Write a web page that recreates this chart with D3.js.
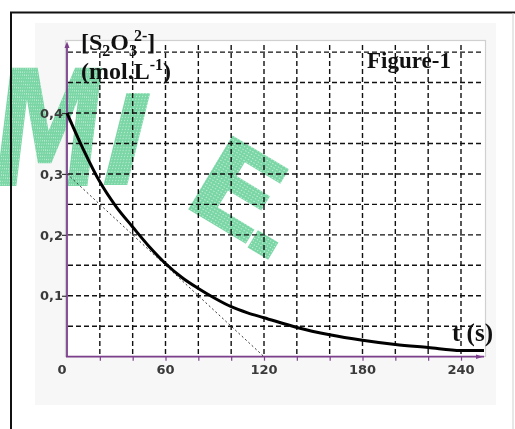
<!DOCTYPE html>
<html>
<head>
<meta charset="utf-8">
<script src="https://cdn.jsdelivr.net/npm/d3@7"></script>
<style>
  body { margin: 0; background: #fff; }
  svg { display: block; }
</style>
</head>
<body>
<svg id="canvas" width="515" height="429"></svg>
<script>
// values
var times = [0, 10, 20, 30, 40, 50, 60, 70, 80, 90, 100, 110, 120, 140, 160, 180, 200, 220, 240, 254];
var conc  = [0.400, 0.340, 0.287, 0.246, 0.213, 0.181, 0.153, 0.130, 0.112, 0.096, 0.082, 0.072, 0.064, 0.048, 0.036, 0.027, 0.020, 0.015, 0.010, 0.010];

// tangent line (dotted)
var tangentT = [0, 120];
var tangentC = [0.3, 0];

var xTicks = [0, 60, 120, 180, 240];
var yTicks = [0.1, 0.2, 0.3, 0.4];
var yTickLabels = ["0,1", "0,2", "0,3", "0,4"];
var xGrid = d3.range(20, 241, 20);
var yGrid = d3.range(0.05, 0.501, 0.05);

var svg = d3.select("#canvas");
var purple = "#7b3f8c";

// panels
svg.append("rect").attr("x", 35).attr("y", 23).attr("width", 461).attr("height", 382).attr("fill", "#f7f7f7");
svg.append("rect").attr("x", 65.5).attr("y", 40.5).attr("width", 420).attr("height", 316)
  .attr("fill", "#fff").attr("stroke", "#d0d0d0").attr("stroke-width", 1.2);

var x = d3.scaleLinear().domain([0, 240]).range([67, 461]);
var y = d3.scaleLinear().domain([0, 0.4]).range([356.7, 113]);

// watermark
var defs = svg.append("defs");
var pat = defs.append("pattern").attr("id", "chk").attr("width", 3).attr("height", 3)
  .attr("patternUnits", "userSpaceOnUse");
pat.append("rect").attr("width", 3).attr("height", 3).attr("fill", "#62cf95");
pat.append("rect").attr("x", 1).attr("y", 1).attr("width", 1).attr("height", 1).attr("fill", "#d8f3e4");

var wm = svg.append("g").attr("fill", "url(#chk)").attr("opacity", 0.85)
  .style("font-family", "'DejaVu Sans'").style("font-weight", "bold");
wm.append("text").attr("transform", "translate(-14,186) skewX(-7) scale(0.72,1.04)")
  .style("font-size", "156px").text("M");
wm.append("text").attr("transform", "translate(92,185) skewX(-14)")
  .style("font-size", "126px").text("I");
wm.append("text").attr("transform", "translate(178,203) rotate(31) scale(1.1,1)")
  .style("font-size", "118px").text("E");
wm.append("rect").attr("x", -12).attr("y", -10).attr("width", 24).attr("height", 20)
  .attr("transform", "translate(263,245) rotate(31)");

// outer border
svg.append("path").attr("d", "M11,430 V12.5 H515").attr("fill", "none").attr("stroke", "#111").attr("stroke-width", 2);
svg.append("line").attr("x1", 513).attr("x2", 513).attr("y1", 13).attr("y2", 429)
  .attr("stroke", "#cfcfcf").attr("stroke-width", 1);

// grid
var grid = svg.append("g").attr("stroke", "#111").attr("stroke-width", 1.4).attr("stroke-dasharray", "5,3");
grid.selectAll(".vg").data(xGrid).enter().append("line")
  .attr("x1", function(d){ return x(d); }).attr("x2", function(d){ return x(d); })
  .attr("y1", 45).attr("y2", 356);
grid.selectAll(".hg").data(yGrid).enter().append("line")
  .attr("x1", 68).attr("x2", 484)
  .attr("y1", function(d){ return y(d); }).attr("y2", function(d){ return y(d); });

// axes
var xAxis = d3.axisBottom(x).tickValues(xGrid).tickSize(4).tickFormat("");
var gx = svg.append("g").attr("transform", "translate(0,356.7)").call(xAxis);
gx.select(".domain").remove();
gx.selectAll("line").attr("stroke", purple).attr("stroke-width", 1.2);

svg.append("g").selectAll("text").data(xTicks).enter().append("text")
  .attr("x", function(d){ return x(d) + (d === 0 ? -5 : 0); }).attr("y", 374)
  .attr("text-anchor", "middle").attr("fill", "#3a3a3a")
  .style("font", "bold 13px 'DejaVu Sans'").text(function(d){ return d; });

var yAxis = d3.axisLeft(y).tickValues(yTicks).tickSize(5).tickFormat(function(d, i){ return yTickLabels[i]; });
var gy = svg.append("g").attr("transform", "translate(67,0)").call(yAxis);
gy.select(".domain").remove();
gy.selectAll("line").attr("stroke", "#333").attr("stroke-width", 1.2);
gy.selectAll("text").attr("fill", "#3a3a3a").style("font", "bold 13px 'DejaVu Sans'").attr("x", -4);

svg.append("line").attr("x1", 67).attr("x2", 67).attr("y1", 44).attr("y2", 357)
  .attr("stroke", purple).attr("stroke-width", 1.8);
svg.append("path").attr("d", "M64.5,48 L67,41.5 L69.5,48 Z").attr("fill", purple);
svg.append("line").attr("x1", 66).attr("x2", 484).attr("y1", 356.7).attr("y2", 356.7)
  .attr("stroke", purple).attr("stroke-width", 1.8);
svg.append("path").attr("d", "M476,354.5 L483,356.7 L476,359 Z").attr("fill", purple);

// tangent
var tangent = d3.line().x(function(d){ return x(d[0]); }).y(function(d){ return y(d[1]); });
svg.append("path").datum(d3.zip(tangentT, tangentC)).attr("d", tangent)
  .attr("fill", "none").attr("stroke", "#333").attr("stroke-width", 1).attr("stroke-dasharray", "2,2.5");

// curve
var line = d3.line().curve(d3.curveMonotoneX)
  .x(function(d){ return x(d[0]); }).y(function(d){ return y(d[1]); });
svg.append("path").datum(d3.zip(times, conc)).attr("d", line)
  .attr("fill", "none").attr("stroke", "#000").attr("stroke-width", 3);

// labels
var serif = "'Liberation Serif', 'Times New Roman', serif";
var lab = svg.append("text").attr("x", 81).attr("y", 50).style("font", "bold 24px " + serif).attr("fill", "#111");
lab.append("tspan").text("[S");
lab.append("tspan").attr("dy", 6).style("font-size", "16px").text("2");
lab.append("tspan").attr("dy", -6).text("O");
lab.append("tspan").attr("dy", 6).style("font-size", "16px").text("3");
lab.append("tspan").attr("dy", -15).attr("dx", -3).style("font-size", "16px").text("2-");
lab.append("tspan").attr("dy", 9).text("]");

var unit = svg.append("text").attr("x", 81).attr("y", 79).style("font", "bold 24px " + serif).attr("fill", "#111");
unit.append("tspan").text("(mol.L");
unit.append("tspan").attr("dy", -9).style("font-size", "16px").text("-1");
unit.append("tspan").attr("dy", 9).text(")");

svg.append("text").attr("x", 367).attr("y", 68).style("font", "bold 23px " + serif).attr("fill", "#111").text("Figure-1");
svg.append("text").attr("x", 452).attr("y", 341).style("font", "bold 25px " + serif).attr("fill", "#111").text("t (s)");
</script>
</body>
</html>
